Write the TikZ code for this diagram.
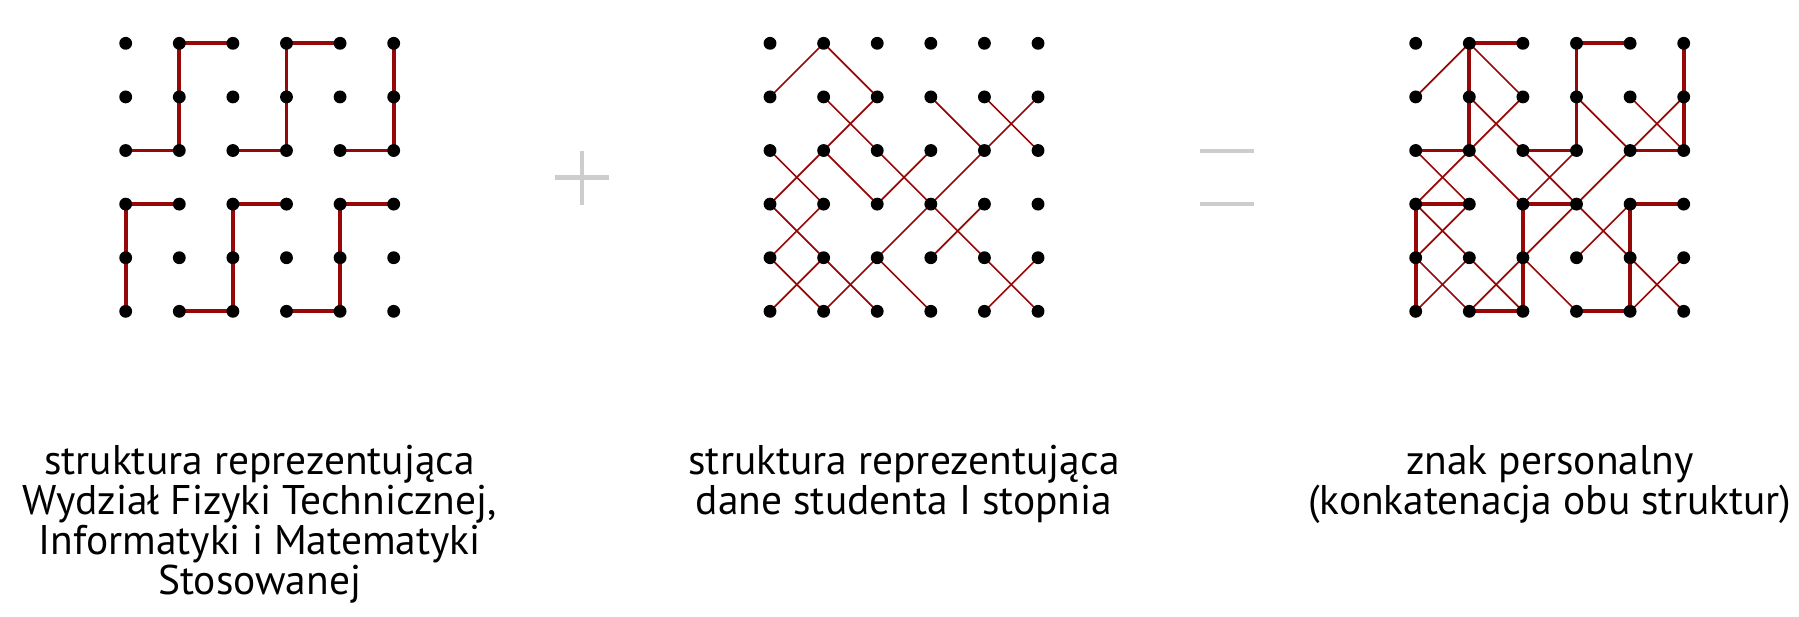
\documentclass[tikz,border=0pt]{standalone}
\usepackage{fontspec}
\setmainfont{PT Sans}
\usetikzlibrary{backgrounds}
\definecolor{markred}{RGB}{150,8,8}
\definecolor{signgray}{RGB}{205,205,205}
\tikzset{
    dot/.style={circle, fill=black, inner sep=0pt, minimum size=2.4mm},
    facultyline/.style={markred, line width=2pt},
    studentline/.style={markred, line width=0.9pt},
    signline/.style={signgray, line width=2.6pt},
    caption/.style={align=center, anchor=north, inner sep=0pt,
        font=\fontsize{22}{21.3}\selectfont},
}
\newcommand{\drawdots}[1]{%
    % draw the 6x6 dots
    \foreach \c in {0,...,5} {%
        \foreach \r in {0,...,5} {%
            \node[dot] (#1-\c-\r) at (\c,-\r) {};}}
}
\newcommand{\drawfaculty}[1]{%
    % draw thick straight lines
    \begin{pgfonlayer}{background}
    \foreach \a/\b in {1-0/2-0, 1-0/1-2, 0-2/1-2, 3-0/4-0, 3-0/3-2, 2-2/3-2,
                       5-0/5-2, 4-2/5-2, 0-3/1-3, 0-3/0-5, 2-3/3-3, 2-3/2-5,
                       1-5/2-5, 4-3/5-3, 4-3/4-5, 3-5/4-5} {%
        \draw[facultyline] (#1-\a.center) -- (#1-\b.center);}
    \end{pgfonlayer}
}
\newcommand{\drawstudent}[1]{%
    % draw thin diagonal lines
    \begin{pgfonlayer}{background}
    \foreach \a/\b in {0-1/1-0, 1-0/2-1, 2-1/0-3, 1-1/5-5, 1-2/2-3, 2-3/3-2,
                       3-1/4-2, 5-1/1-5, 4-1/5-2, 0-2/1-3, 1-3/0-4, 0-3/2-5,
                       1-4/0-5, 0-4/1-5, 3-4/4-3, 2-4/3-5, 5-4/4-5} {%
        \draw[studentline] (#1-\a.center) -- (#1-\b.center);}
    \end{pgfonlayer}
}
\begin{document}
\begin{tikzpicture}
\useasboundingbox (0,0) rectangle (33.563,-11.493);
\begin{scope}[shift={(2.345,-0.808)}]
    \drawdots{f}
    \drawfaculty{f}
\end{scope}
\begin{scope}[shift={(14.366,-0.808)}]
    \drawdots{s}
    \drawstudent{s}
\end{scope}
\begin{scope}[shift={(26.412,-0.808)}]% both structures together
    \drawdots{z}
    \drawstudent{z}
    \drawfaculty{z}
\end{scope}
% plus and equals
\draw[signline] (10.354,-3.312) -- (11.362,-3.312);
\draw[signline] (10.858,-2.808) -- (10.858,-3.816);
\draw[signline] (22.388,-2.817) -- (23.396,-2.817);
\draw[signline] (22.388,-3.806) -- (23.396,-3.806);
% captions
\node[caption] (capfaculty) at (4.845,-8.3) {struktura reprezentująca\\Wydział Fizyki Technicznej,\\Informatyki i Matematyki\\Stosowanej};
\node[caption] (capstudent) at (16.866,-8.3) {struktura reprezentująca\\dane studenta I stopnia};
\node[caption] (capmark) at (28.912,-8.3) {znak personalny\\(konkatenacja obu struktur)};
\end{tikzpicture}
\end{document}
